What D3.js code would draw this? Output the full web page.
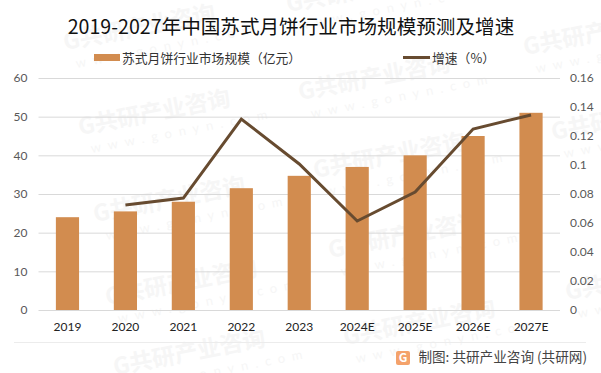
<!DOCTYPE html>
<html>
<head>
<meta charset="utf-8">
<script src="https://cdn.jsdelivr.net/npm/d3@7"></script>
<style>
html, body { margin: 0; padding: 0; background: #fff; }
svg { display: block; }
text { font-family: "Noto Sans CJK SC", "Liberation Sans", sans-serif; }
.num { font-family: Lato, "Liberation Sans", sans-serif; }
</style>
</head>
<body>
<svg id="chart" width="601" height="373"></svg>
<script>
const categories = ['2019', '2020', '2021', '2022', '2023', '2024E', '2025E', '2026E', '2027E'];
const marketSize = [24, 25.5, 28, 31.5, 34.7, 37, 40, 45, 51];
const growth = [null, 0.0724, 0.0772, 0.1317, 0.1007, 0.0614, 0.0814, 0.1248, 0.1345];
const leftTicks = [0, 10, 20, 30, 40, 50, 60];
const rightTicks = [0, 0.02, 0.04, 0.06, 0.08, 0.1, 0.12, 0.14, 0.16];

const width = 601, height = 373;
const plot = {left: 38.5, right: 560, top: 78, bottom: 310};
const svg = d3.select('#chart');

// watermark, sits under everything else
const marks = [[65, 50], [80, 135], [300, 100], [288, 12], [525, 55], [95, 222], [315, 178],
               [553, 140], [107, 305], [330, 258], [567, 300], [345, 345], [115, 375]];
const wm = svg.append('g').attr('fill', '#f6f6f6');
marks.forEach(([x, y]) => {
    const g = wm.append('g').attr('transform', `translate(${x},${y}) rotate(-11)`);
    g.append('text').attr('font-size', 23).attr('font-weight', 700).text('G共研产业咨询');
    g.append('text').attr('class', 'num').attr('x', 8).attr('y', 20).attr('font-size', 13)
        .attr('letter-spacing', 7).text('www.gonyn.com');
});

const x = d3.scaleBand().domain(categories).range([plot.left, plot.right]).paddingInner(0.6).paddingOuter(0.3);
const yLeft = d3.scaleLinear().domain([0, 60]).range([plot.bottom, plot.top]);
const yRight = d3.scaleLinear().domain([0, 0.16]).range([plot.bottom, plot.top]);

// gridlines
svg.append('g').selectAll('line')
    .data(leftTicks)
    .enter().append('line')
    .attr('x1', plot.left).attr('x2', plot.right)
    .attr('y1', d => yLeft(d) + 0.5).attr('y2', d => yLeft(d) + 0.5)
    .attr('stroke', '#d9d9d9').attr('stroke-width', 1);

svg.append('g').selectAll('rect')
    .data(categories)
    .enter().append('rect')
    .attr('x', d => x(d))
    .attr('y', (d, i) => yLeft(marketSize[i]))
    .attr('width', x.bandwidth())
    .attr('height', (d, i) => plot.bottom - yLeft(marketSize[i]))
    .attr('fill', '#d28c4f');

const line = d3.line()
    .defined(d => d.v !== null)
    .x(d => x(d.c) + x.bandwidth() / 2)
    .y(d => yRight(d.v));

svg.append('path')
    .datum(categories.map((c, i) => ({c: c, v: growth[i]})))
    .attr('d', line)
    .attr('fill', 'none')
    .attr('stroke', '#674b30')
    .attr('stroke-width', 3);

// axes
const axisLeft = d3.axisLeft(yLeft).tickValues(leftTicks).tickSize(0).tickPadding(11);
const axisRight = d3.axisRight(yRight).tickValues(rightTicks).tickSize(0)
    .tickFormat(d => String(d)).tickPadding(10);
const axisBottom = d3.axisBottom(x).tickSize(0).tickPadding(12);

const gLeft = svg.append('g').attr('transform', `translate(${plot.left},0)`).call(axisLeft);
const gRight = svg.append('g').attr('transform', `translate(${plot.right},0)`).call(axisRight);
const gBottom = svg.append('g').attr('transform', `translate(0,${plot.bottom})`).call(axisBottom);
[gLeft, gRight, gBottom].forEach(g => g.select('.domain').remove());
gLeft.selectAll('text').attr('class', 'num').attr('font-size', 12).attr('fill', '#595959');
gRight.selectAll('text').attr('class', 'num').attr('font-size', 12).attr('fill', '#595959');
gBottom.selectAll('text').attr('class', 'num').attr('font-size', 12).attr('fill', '#222');

// title
svg.append('text')
    .attr('x', 291).attr('y', 34)
    .attr('text-anchor', 'middle')
    .attr('font-size', 19.6)
    .attr('fill', '#111')
    .text('2019-2027年中国苏式月饼行业市场规模预测及增速');

// legend
svg.append('rect').attr('x', 94).attr('y', 54).attr('width', 26).attr('height', 7).attr('fill', '#d28c4f');
svg.append('text').attr('x', 122).attr('y', 63).attr('font-size', 12.8).attr('fill', '#333')
    .text('苏式月饼行业市场规模（亿元）');
svg.append('line').attr('x1', 403).attr('x2', 430).attr('y1', 57.5).attr('y2', 57.5)
    .attr('stroke', '#674b30').attr('stroke-width', 3);
svg.append('text').attr('x', 432).attr('y', 63).attr('font-size', 12.8).attr('fill', '#333')
    .text('增速（%）');

// footer
svg.append('line').attr('x1', 14).attr('x2', 586).attr('y1', 342.5).attr('y2', 342.5)
    .attr('stroke', '#ececec');
svg.append('rect').attr('x', 396).attr('y', 351).attr('width', 14).attr('height', 14).attr('rx', 2)
    .attr('fill', '#f4a26b');
svg.append('text').attr('x', 403).attr('y', 362).attr('text-anchor', 'middle')
    .attr('font-size', 12).attr('font-weight', 700).attr('fill', '#fff').text('G');
svg.append('text').attr('x', 587).attr('y', 362).attr('text-anchor', 'end')
    .attr('font-size', 13.6).attr('fill', '#444')
    .text('制图: 共研产业咨询 (共研网)');
</script>
</body>
</html>
